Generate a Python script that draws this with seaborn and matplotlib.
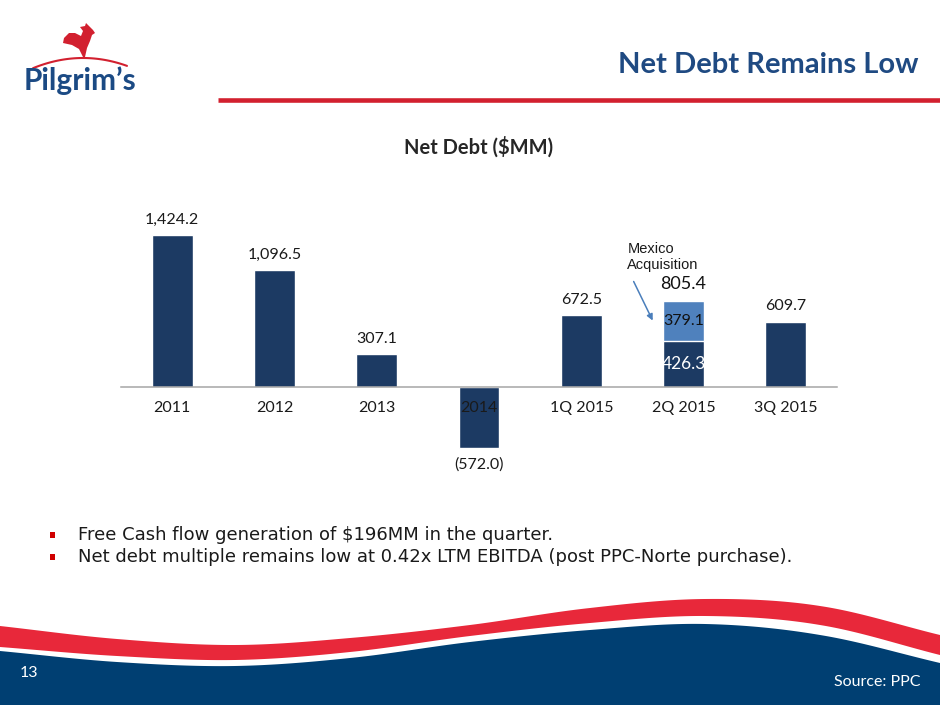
import numpy as np
import pandas as pd
import seaborn as sns
import matplotlib
matplotlib.use('Agg')
import matplotlib.pyplot as plt
from matplotlib.patches import Rectangle, Polygon

sns.set_style("white")
plt.rcParams['font.family'] = ['Lato', 'DejaVu Sans']

# === Data ===
categories = ['2011', '2012', '2013', '2014', '1Q 2015', '2Q 2015', '3Q 2015']
net_debt = [1424.2, 1096.5, 307.1, -572.0, 672.5, 426.3, 609.7]
mexico_acq = [0.0, 0.0, 0.0, 0.0, 0.0, 379.1, 0.0]
bullets = ["Free Cash flow generation of $196MM in the quarter.",
           "Net debt multiple remains low at 0.42x LTM EBITDA (post PPC-Norte purchase)."]

df = pd.DataFrame({'period': categories, 'base': net_debt, 'mexico': mexico_acq})
df['total'] = df['base'] + df['mexico']

DARK = '#1C3A63'
LIGHT = '#4F81BD'
NAVY = '#003F72'
RED = '#E8283A'


def fmt(v):
    s = f"{abs(v):,.1f}"
    return f"({s})" if v < 0 else s


def smooth(xk, yk, n=400):
    # catmull-rom through the key points
    xk = np.asarray(xk, float)
    yk = np.asarray(yk, float)
    ext = np.concatenate([[2 * yk[0] - yk[1]], yk, [2 * yk[-1] - yk[-2]]])
    out_x, out_y = [], []
    for i in range(len(xk) - 1):
        p0, p1, p2, p3 = ext[i], ext[i + 1], ext[i + 2], ext[i + 3]
        t = np.linspace(0, 1, n // len(xk), endpoint=False)
        y = 0.5 * (2 * p1 + (-p0 + p2) * t + (2 * p0 - 5 * p1 + 4 * p2 - p3) * t ** 2
                   + (-p0 + 3 * p1 - 3 * p2 + p3) * t ** 3)
        out_x.append(xk[i] + (xk[i + 1] - xk[i]) * t)
        out_y.append(y)
    out_x.append([xk[-1]])
    out_y.append([yk[-1]])
    return np.concatenate(out_x), np.concatenate(out_y)


fig = plt.figure(figsize=(9.4, 7.05), dpi=100)

# === Slide background / decorations (pixel coords) ===
bg = fig.add_axes([0, 0, 1, 1])
bg.set_xlim(0, 940)
bg.set_ylim(705, 0)
bg.axis('off')

xs = [0, 117, 235, 350, 470, 590, 705, 820, 940]
xx, rt = smooth(xs, [626, 639, 645, 638, 625, 608, 599, 606, 635])
_, rb = smooth(xs, [647, 656, 660, 652, 636, 623, 616, 625, 655])
_, bt = smooth(xs, [651, 662, 666, 658, 642, 630, 624, 635, 663])
bg.fill_between(xx, rt, rb, color=RED, lw=0)
bg.fill_between(xx, bt, 706, color=NAVY, lw=0)

# header rule
bg.plot([218, 940], [99.5, 99.5], color='#D2202F', lw=3.3, solid_capstyle='butt')

# logo
arc_x = np.linspace(33, 127, 50)
arc_y = 58 + 9 * ((arc_x - 83) / 47) ** 2
bg.plot(arc_x, arc_y, color='#D2202F', lw=1.5)
rooster = [(83, 57), (79, 49), (72, 45), (63, 43), (64, 38), (69, 33), (75, 33),
           (81, 36), (83, 31), (80, 27), (85, 26), (86, 23), (89, 26), (93, 30),
           (95, 33), (92, 35), (90, 41), (87, 48), (85, 57)]
bg.add_patch(Polygon(rooster, closed=True, color='#D2202F', lw=0))
fig.text(24 / 940, 1 - 90 / 705, "Pilgrim\u2019s", fontsize=21.5, fontweight='bold',
         color='#1B4A84', ha='left', va='baseline')

# slide title
fig.text(918 / 940, 1 - 65 / 705, "Net Debt Remains Low", fontsize=21, fontweight='bold',
         color='#1F4A82', ha='right', va='center')

# chart title
fig.text(479 / 940, 1 - 147 / 705, "Net Debt ($MM)", fontsize=14.5, fontweight='bold',
         color='#262626', ha='center', va='center')

# bullets
for i, line in enumerate(bullets):
    y = 535 + 21.5 * i
    bg.add_patch(Rectangle((50, y - 3), 5, 6, color='#D00000', lw=0))
    fig.text(78 / 940, 1 - y / 705, line, fontsize=13, family='DejaVu Sans',
             color='#1a1a1a', ha='left', va='center')

# footer text
fig.text(20 / 940, 1 - 673 / 705, "13", fontsize=11.5, color='white', ha='left', va='center')
fig.text(920 / 940, 1 - 682 / 705, "Source: PPC", fontsize=11.5, color='white',
         ha='right', va='center')

# === Chart ===
ax = fig.add_axes([121 / 940, 1 - 461.3 / 705, 716 / 940, 245.2 / 705])
ax.patch.set_alpha(0)
sns.barplot(data=df, x='period', y='total', color=LIGHT, width=0.4, saturation=1, ax=ax)
sns.barplot(data=df, x='period', y='base', color=DARK, width=0.4, saturation=1, ax=ax)
ax.set_axisbelow(False)
ax.set_xlim(-0.5, len(categories) - 0.5)
ax.set_ylim(-700, 1600)
ax.set_xlabel('')
ax.set_ylabel('')
ax.set_yticks([])
for side in ['top', 'right', 'left']:
    ax.spines[side].set_visible(False)
ax.spines['bottom'].set_position(('data', 0))
ax.spines['bottom'].set_color('#A6A6A6')
ax.spines['bottom'].set_linewidth(1.1)
ax.set_xticks(np.arange(-0.5, len(categories)), minor=True)
ax.tick_params(axis='x', which='minor', length=4, width=1, color='#A6A6A6', direction='out')
ax.tick_params(axis='x', which='major', length=0, pad=10, labelsize=11.5, labelcolor='#1a1a1a')
ax.set_xticks(range(len(categories)))
ax.set_xticklabels(categories)
ax.xaxis.set_zorder(5)

for i, row in df.iterrows():
    if row['mexico'] > 0:
        ax.annotate(fmt(row['total']), (i, row['total']), xytext=(0, 6),
                    textcoords='offset points', ha='center', va='bottom',
                    fontsize=13, color='#111111')
        ax.text(i, row['base'] + row['mexico'] / 2, fmt(row['mexico']), ha='center',
                va='center', fontsize=11.5, color='#111111')
        ax.text(i, row['base'] / 2, fmt(row['base']), ha='center', va='center',
                fontsize=12.5, color='white')
    elif row['total'] >= 0:
        ax.annotate(fmt(row['total']), (i, row['total']), xytext=(0, 11),
                    textcoords='offset points', ha='center', va='center',
                    fontsize=11.5, color='#1a1a1a')
    else:
        ax.annotate(fmt(row['total']), (i, row['total']), xytext=(0, -12.5),
                    textcoords='offset points', ha='center', va='center',
                    fontsize=11.5, color='#1a1a1a')

# Mexico acquisition callout
k = categories.index('2Q 2015')
ax.text(k - 0.55, 1075, "Mexico\nAcquisition", ha='left', va='bottom', fontsize=10.5,
        family='Liberation Sans', color='#1a1a1a', linespacing=1.15)
ax.annotate('', xy=(k - 0.29, net_debt[k] + 0.45 * mexico_acq[k]), xytext=(k - 0.5, 1010),
            arrowprops=dict(arrowstyle='-|>', color='#4A7EBB', lw=1.1, mutation_scale=9))

fig.savefig('out.png', dpi=100)
